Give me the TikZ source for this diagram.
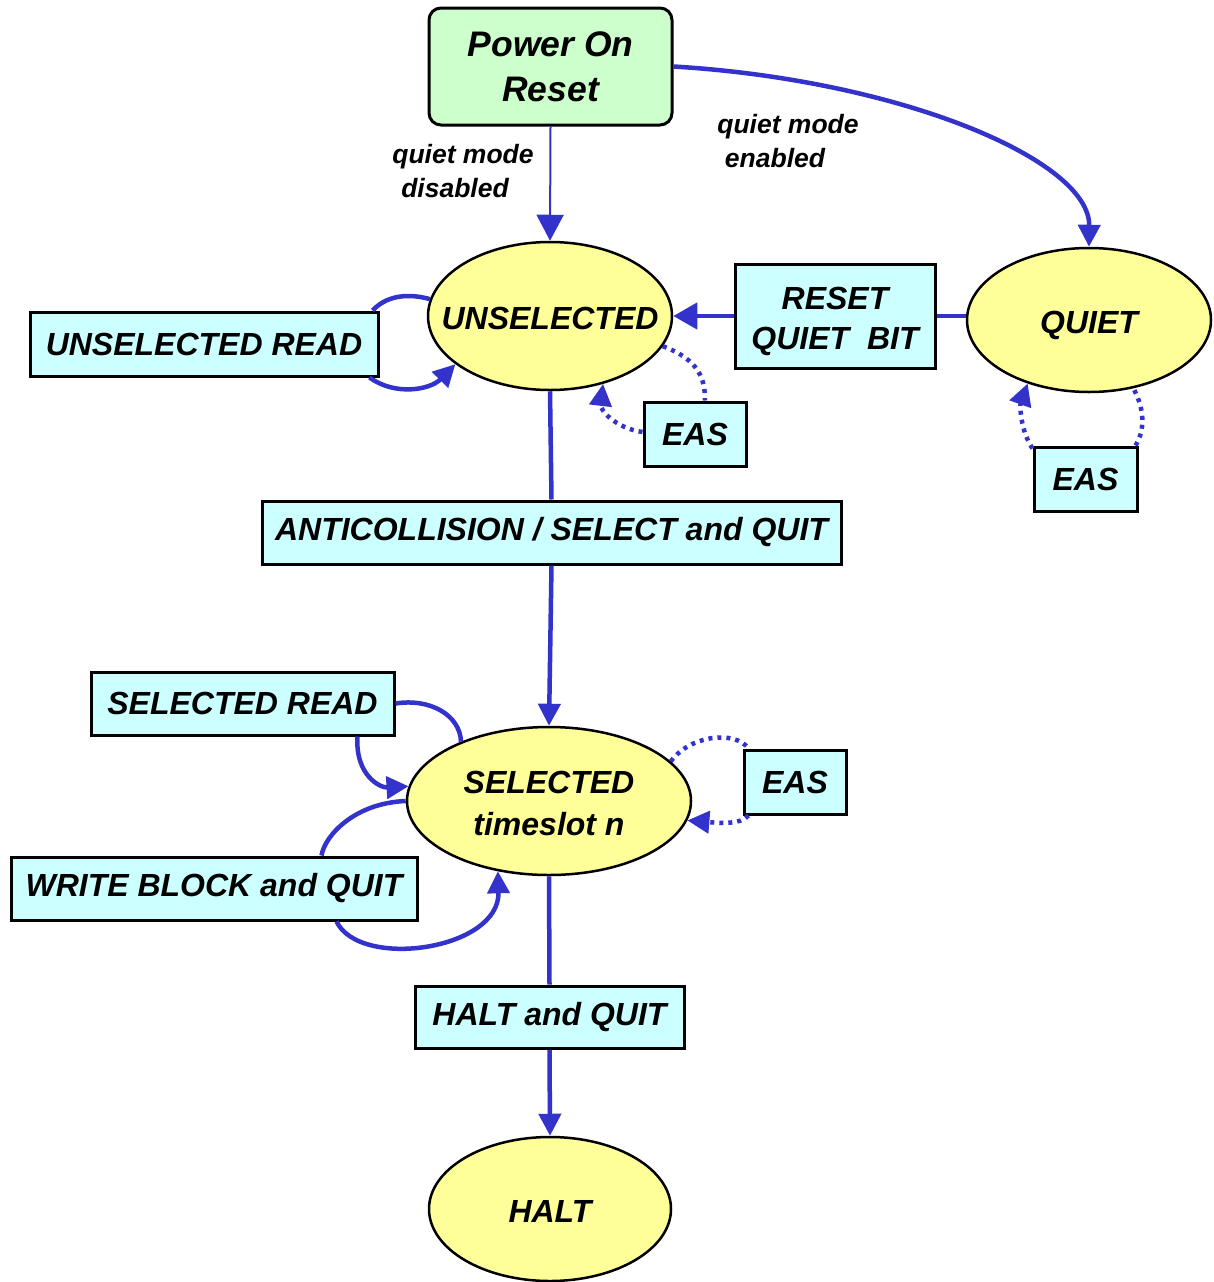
\documentclass[tikz,border=0pt]{standalone}
\usepackage{fontspec}
\setmainfont{Liberation Sans}
\usetikzlibrary{shapes.geometric,arrows.meta,calc}
\definecolor{arrblue}{HTML}{3333CC}
\definecolor{boxfill}{HTML}{CCFFFF}
\definecolor{ellfill}{HTML}{FFFF99}
\definecolor{porfill}{HTML}{CCFFCC}
\newcommand{\zw}[1]{\makebox[0pt]{\smash{\raisebox{-11.5pt}{\begin{tabular}{@{}c@{}}#1\end{tabular}}}}}
\begin{document}
\begin{tikzpicture}[x=1pt,y=-1pt,
  txt/.style={font=\fontsize{32}{40}\selectfont\bfseries\itshape, align=center},
  lbl/.style={font=\fontsize{26.5}{34}\selectfont\bfseries\itshape, align=center, inner sep=0},
  statebox/.style={txt, draw=black, line width=3pt, fill=boxfill, inner sep=0},
  stateell/.style={txt, ellipse, draw=black, line width=2.5pt, fill=ellfill, inner sep=0},
  conn/.style={draw=arrblue, line width=4.5pt},
  dotconn/.style={draw=arrblue, line width=4.5pt, dash pattern=on 4pt off 5pt},
  tip/.style={-{Triangle[length=22pt,width=22pt]}},
]
\useasboundingbox (0,0) rectangle (1213,1282);

% nodes
\node[font=\fontsize{35.5}{45}\selectfont\bfseries\itshape, align=center, draw=black, line width=3pt, fill=porfill, rounded corners=12pt,
      minimum width=243pt, minimum height=117pt, inner sep=0] (por) at (550.5,66.5) {Power On\\Reset};
\node[stateell, minimum width=244pt, minimum height=148pt] (uns) at (550,316) {\zw{UNSELECTED}};
\node[stateell, minimum width=244pt, minimum height=144pt] (qui) at (1089,320) {\zw{QUIET}};
\node[stateell, minimum width=284pt, minimum height=148pt] (sel) at (549,801)
  {\zw{SELECTED\\[2pt]timeslot n}};
\node[stateell, minimum width=242pt, minimum height=144pt] (halt) at (550,1209) {\zw{HALT}};

\node[statebox, minimum width=348pt, minimum height=64pt] (ur) at (204,344) {UNSELECTED READ};
\node[statebox, minimum width=102pt, minimum height=64pt] (e1) at (695,434) {EAS};
\node[statebox, minimum width=200pt, minimum height=104pt] (rq) at (835,316) {\zw{RESET\\QUIET\ \ BIT}};
\node[statebox, minimum width=103pt, minimum height=64pt] (e2) at (1085.5,479) {EAS};
\node[statebox, minimum width=579pt, minimum height=63pt] (ac) at (551.5,532.5) {ANTICOLLISION / SELECT and QUIT};
\node[statebox, minimum width=303pt, minimum height=63pt] (sr) at (242.5,703.5) {SELECTED READ};
\node[statebox, minimum width=102pt, minimum height=64pt] (e3) at (795,782) {EAS};
\node[statebox, minimum width=406pt, minimum height=63pt] (wb) at (214,888.5) {WRITE BLOCK and QUIT};
\node[statebox, minimum width=269pt, minimum height=62pt] (hq) at (549.5,1017) {HALT and QUIT};

\node[lbl] (lq1) at (463,171) {quiet mode\\disabled\hspace*{16pt}};
\node[lbl] (lq2) at (788,141) {quiet mode\\enabled\hspace*{26pt}};

% main connectors
\draw[draw=arrblue, line width=2pt, -{Triangle[length=26pt,width=27pt]}] (por.south) -- (uns.north);
\draw[conn, tip] (por.east) .. controls (900,80) and (1090,160) .. (qui.north);
\draw[conn] (uns.south) -- (ac.north);
\draw[conn, tip] (ac.south) -- (sel.north);
\draw[conn] (sel.south) -- (hq.north);
\draw[conn, tip] (hq.south) -- (halt.north);
\draw[conn] (qui.west |- rq.east) -- (rq.east);
\draw[conn, -{Triangle[length=24pt,width=26pt]}] (rq.west) -- (rq.west -| uns.east);

% unselected read loop
\draw[conn] ($(ur.north east)+(-7,0)$) .. controls (390,292) and (415,295) .. (uns.172);
\draw[conn, tip] ($(ur.south east)+(-10,0)$) .. controls (395,396) and (430,390) .. (uns.207);

% EAS 1
\draw[dotconn] (uns.-15) .. controls (700,360) and (705,380) .. ($(e1.north)+(10,0)$);
\draw[dotconn, tip] ($(e1.west)+(0,-2)$) .. controls (615,428) and (600,410) .. (uns.-52);

% EAS 2
\draw[dotconn, tip] ($(e2.north west)+(0,3)$) .. controls (1020,430) and (1020,405) .. (qui.-134);
\draw[dotconn] ($(e2.north east)+(-3,0)$) .. controls (1145,430) and (1145,410) .. (qui.-57);

% selected read loop
\draw[conn] (sr.east) .. controls (430,698) and (460,715) .. (sel.146);
\draw[conn, tip] ($(sr.south east)+(-38,0)$) .. controls (355,775) and (380,788) .. (sel.174);

% EAS 3
\draw[dotconn] (sel.18) .. controls (690,735) and (735,730) .. ($(e3.north west)+(6,0)$);
\draw[dotconn, tip] ($(e3.south west)+(6,0)$) .. controls (740,825) and (720,823) .. (sel.-8);

% write block loop
\draw[conn] (sel.west) .. controls (355,803) and (325,835) .. ($(wb.north west)+(312,0)$);
\draw[conn, tip] ($(wb.south west)+(327,0)$) .. controls (360,970) and (500,950) .. (sel.-126);
\end{tikzpicture}
\end{document}
